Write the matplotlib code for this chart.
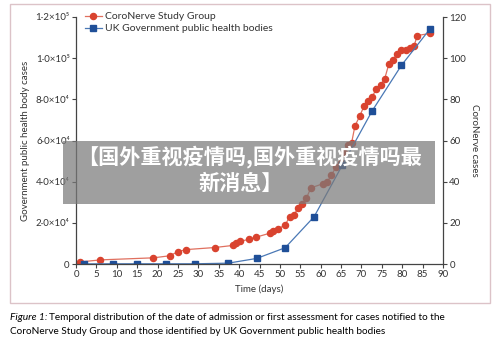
import matplotlib
matplotlib.use("Agg")
import matplotlib.pyplot as plt
from matplotlib.patches import Rectangle
from matplotlib.lines import Line2D

plt.rcParams['font.family'] = ['Lato', 'DejaVu Sans']

# CoroNerve Study Group (right axis, cases)
coro_days = [1, 6, 19, 23, 25, 27, 34, 38.4, 39.2, 40.3, 42.4, 44.1, 47.6, 48.4, 49.5,
             51.3, 52.4, 53.4, 54.5, 55.4, 56.5, 57.6, 60.6, 61.6, 62.6, 63.7, 64.9,
             65.8, 66.6, 67.6, 68.4, 69.6, 70.7, 71.7, 72.6, 73.6, 74.7, 75.7, 76.7,
             77.7, 78.7, 79.8, 80.9, 81.9, 82.9, 83.7, 86.8]
coro_vals = [1, 2, 3, 4, 6, 7, 8, 9, 10, 11, 12, 13, 15, 16, 17,
             19, 23, 24, 27, 29, 32, 37, 39, 40, 43, 47, 49,
             54, 58, 59, 67, 72, 77, 79, 81, 85, 87, 90, 97,
             99, 102, 104, 104, 105, 106, 111, 112]

# UK Government public health bodies (left axis, cases)
uk_days = [2, 9, 15, 22.1, 29.1, 37.3, 44.3, 51.3, 58.4, 65.3, 72.6, 79.8, 86.8]
uk_vals = [50, 100, 100, 100, 100, 400, 2700, 7900, 23000, 48000, 74300, 96500, 114200]

left_ticks = [0, 20000, 40000, 60000, 80000, 100000, 120000]
left_labels = ['0', '2·0×10⁴', '4·0×10⁴', '6·0×10⁴', '8·0×10⁴', '1·0×10⁵', '1·2×10⁵']
right_ticks = [0, 20, 40, 60, 80, 100, 120]
x_ticks = list(range(0, 95, 5))

red = '#d9432f'
red_line = '#e0705f'
blue = '#1f4f98'
blue_line = '#4a78b5'
txt = '#333333'

fig = plt.figure(figsize=(5, 3.46), dpi=100)
W, H = 500, 346

ax = fig.add_axes([76 / W, 1 - 264 / H, (443 - 76) / W, (264 - 17) / H])
ax2 = ax.twinx()
ax.set_zorder(2)
ax.patch.set_visible(False)

ax2.plot(coro_days, coro_vals, '-o', color=red_line, mfc=red, mec=red, ms=4.4, lw=0.9)
ax.plot(uk_days, uk_vals, '-s', color=blue_line, mfc=blue, mec=blue, ms=4.4, lw=0.9)

ax.set_xlim(0, 90)
ax.set_ylim(0, 120000)
ax2.set_ylim(0, 120)
ax.set_xticks(x_ticks)
ax.set_xticklabels([str(t) for t in x_ticks])
ax.set_yticks(left_ticks)
ax.set_yticklabels(left_labels)
ax2.set_yticks(right_ticks)
ax2.set_yticklabels([str(t) for t in right_ticks])

for a in (ax, ax2):
    a.spines['top'].set_visible(False)
    for s in a.spines.values():
        s.set_color('#444444')
        s.set_linewidth(0.9)
    a.tick_params(colors='#444444', labelcolor=txt, labelsize=7, length=3, width=0.8, pad=1.5)
ax.spines['right'].set_visible(False)
ax2.spines['left'].set_visible(False)
ax2.spines['bottom'].set_visible(False)

ax.set_xlabel('Time (days)', fontsize=7, color=txt, labelpad=4)
ax.set_ylabel('Government public health body cases', fontsize=7, color=txt, labelpad=4)
ax2.set_ylabel('CoroNerve cases', fontsize=7, color=txt, rotation=270, labelpad=9)

handles = [Line2D([], [], color=red_line, marker='o', mfc=red, mec=red, ms=4.4, lw=0.9),
           Line2D([], [], color=blue_line, marker='s', mfc=blue, mec=blue, ms=4.4, lw=0.9)]
fig.legend(handles, ['CoroNerve Study Group', 'UK Government public health bodies'],
           loc='upper left', bbox_to_anchor=(85 / W, 1 - 12 / H), frameon=False,
           fontsize=7.5, handlelength=1.6, handletextpad=0.3, labelspacing=0.25,
           borderaxespad=0, borderpad=0, labelcolor=txt)

# frame around the chart
fig.patches.append(Rectangle((10 / W, 1 - 303 / H), 480 / W, 299 / H, transform=fig.transFigure,
                             fill=False, edgecolor='#dcc3c8', lw=1.0))

# caption
fig.text(10 / W, 1 - 318 / H, 'Figure 1:', fontsize=7.4, style='italic', va='center', ha='left')
fig.text(49 / W, 1 - 318 / H,
         'Temporal distribution of the date of admission or first assessment for cases notified to the',
         fontsize=7.2, va='center', ha='left')
fig.text(10 / W, 1 - 332 / H,
         'CoroNerve Study Group and those identified by UK Government public health bodies',
         fontsize=7.2, va='center', ha='left')

# banner overlay
fig.patches.append(Rectangle((63 / W, 1 - 204 / H), (435 - 63) / W, (204 - 141) / H,
                             transform=fig.transFigure, facecolor='#7a7a7a', alpha=0.72,
                             edgecolor='none', zorder=10))
fig.text(250 / W, 1 - 157 / H, '【国外重视疫情吗,国外重视疫情吗最', fontsize=15.2, color='white',
         weight='bold', ha='center', va='center', zorder=11,
         family=['Noto Sans CJK SC', 'DejaVu Sans'])
fig.text(241 / W, 1 - 183 / H, '新消息】', fontsize=15.2, color='white',
         weight='bold', ha='center', va='center', zorder=11,
         family=['Noto Sans CJK SC', 'DejaVu Sans'])

fig.savefig('out.png', dpi=100)
